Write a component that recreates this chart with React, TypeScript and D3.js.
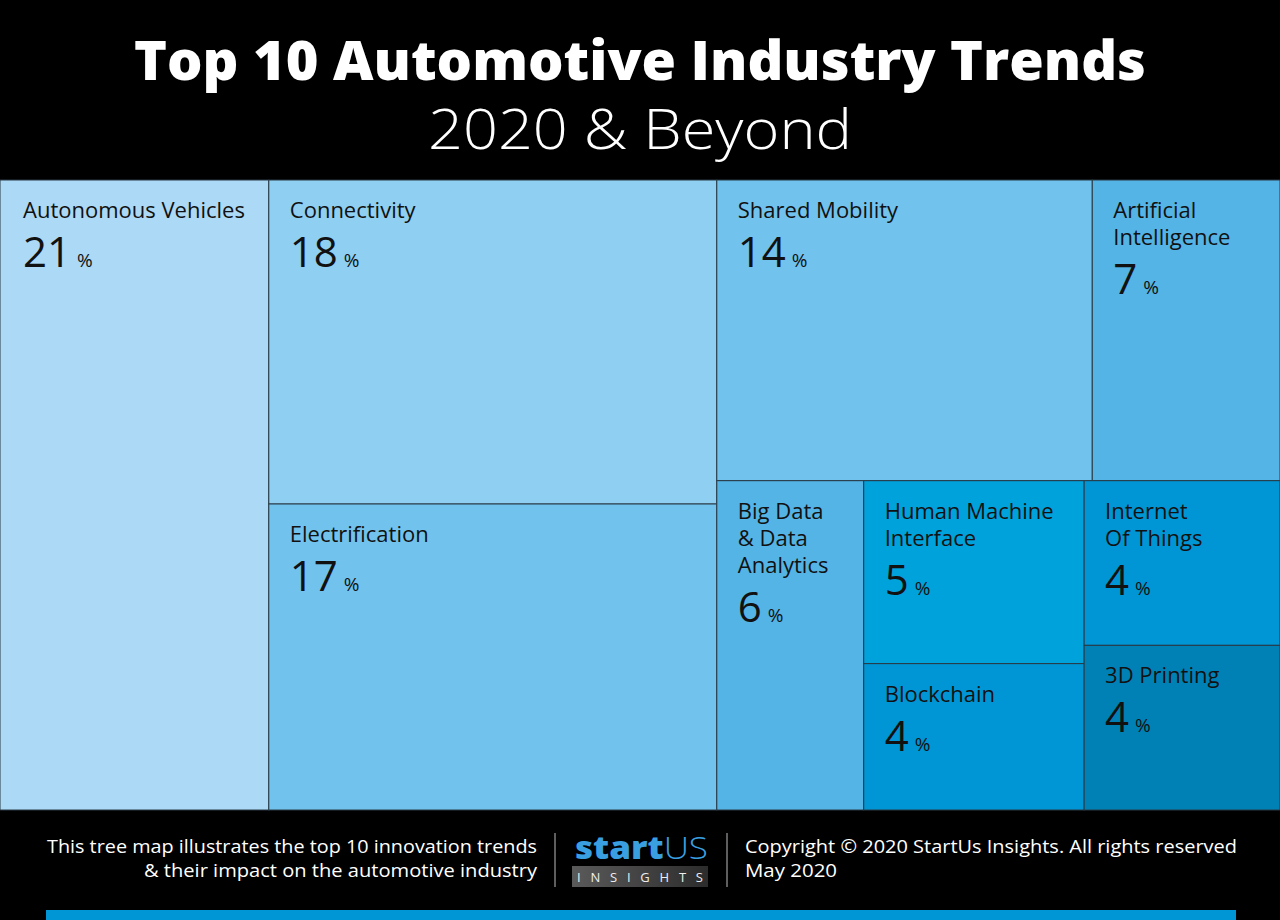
import { useMemo } from 'react'
import * as d3 from 'd3'

// trend names, shares (%) and fills
const trendNames = [
  'Autonomous Vehicles',
  'Connectivity',
  'Electrification',
  'Shared Mobility',
  'Artificial Intelligence',
  'Big Data & Data Analytics',
  'Human Machine Interface',
  'Blockchain',
  'Internet Of Things',
  '3D Printing',
]
const trendShares = [21, 18, 17, 14, 7, 6, 5, 4, 4, 4]
const trendLines = [
  ['Autonomous Vehicles'],
  ['Connectivity'],
  ['Electrification'],
  ['Shared Mobility'],
  ['Artificial', 'Intelligence'],
  ['Big Data', '& Data', 'Analytics'],
  ['Human Machine', 'Interface'],
  ['Blockchain'],
  ['Internet', 'Of Things'],
  ['3D Printing'],
]
const trendColors = [
  '#acd9f6',
  '#8ecff2',
  '#71c3ee',
  '#71c3ee',
  '#54b4e6',
  '#54b4e6',
  '#00a2dc',
  '#0096d5',
  '#0096d5',
  '#0081b6',
]

const W = 1280
const H = 920
const top = 180
const bottom = 810

type Node = { name?: string; idx?: number; dir?: 'h' | 'v'; children?: Node[]; value?: number }

const leaf = (i: number): Node => ({ name: trendNames[i], idx: i, value: trendShares[i] })

// nesting that reproduces the slice-and-dice arrangement of the original
const tree: Node = {
  dir: 'h',
  children: [
    leaf(0),
    { dir: 'v', children: [leaf(1), leaf(2)] },
    {
      dir: 'v',
      children: [
        { dir: 'h', children: [leaf(3), leaf(4)] },
        {
          dir: 'h',
          children: [
            leaf(5),
            { dir: 'v', children: [leaf(6), leaf(7)] },
            { dir: 'v', children: [leaf(8), leaf(9)] },
          ],
        },
      ],
    },
  ],
}

const App = () => {
  const cells = useMemo(() => {
    const root = d3
      .hierarchy<Node>(tree)
      .sum((d) => (d.children ? 0 : d.value || 0))
    const layout = d3
      .treemap<Node>()
      .size([W, bottom - top])
      .tile((node, x0, y0, x1, y1) => {
        if (node.data.dir === 'v') d3.treemapSlice(node, x0, y0, x1, y1)
        else d3.treemapDice(node, x0, y0, x1, y1)
      })
    return layout(root).leaves()
  }, [])

  const font = "'Open Sans', sans-serif"

  return (
    <svg
      width={W}
      height={H}
      style={{ position: 'absolute', left: 0, top: 0, background: '#000' }}
    >
      <rect x={0} y={0} width={W} height={H} fill="#000" />

      {/* header */}
      <text
        x={W / 2}
        y={80}
        textAnchor="middle"
        fill="#fff"
        fontFamily={font}
        fontWeight={800}
        fontSize={54}
        textLength={1012}
        lengthAdjust="spacingAndGlyphs"
      >
        Top 10 Automotive Industry Trends
      </text>
      <text
        x={W / 2}
        y={149}
        textAnchor="middle"
        fill="#fff"
        fontFamily={font}
        fontWeight={300}
        fontSize={56}
        textLength={424}
        lengthAdjust="spacingAndGlyphs"
      >
        2020 &amp; Beyond
      </text>

      {/* treemap */}
      <g transform={`translate(0,${top})`}>
        {cells.map((c) => {
          const i = c.data.idx as number
          const lines = trendLines[i]
          const lx = c.x0 + 21 + (i === 0 ? 2 : 0)
          const numY = 38 + 27 * (lines.length - 1) + 49
          return (
            <g key={i} transform={`translate(0,${c.y0})`}>
              <rect
                x={c.x0}
                y={0}
                width={c.x1 - c.x0}
                height={c.y1 - c.y0}
                fill={trendColors[i]}
                stroke="#2a3a45"
                strokeWidth={1}
              />
              <text x={lx} y={38} fontFamily={font} fontSize={22} fill="#111">
                {lines.map((l, k) => (
                  <tspan key={k} x={lx} dy={k === 0 ? 0 : 27}>
                    {l}
                  </tspan>
                ))}
              </text>
              <text x={lx} y={numY} fontFamily={font} fill="#111">
                <tspan fontSize={42}>{trendShares[i]}</tspan>
                <tspan fontSize={19} dx={6}>
                  %
                </tspan>
              </text>
            </g>
          )
        })}
      </g>

      {/* footer */}
      <g fontFamily={font} fill="#fff" fontSize={19}>
        <text x={537} y={853} textAnchor="end" textLength={490} lengthAdjust="spacingAndGlyphs">
          This tree map illustrates the top 10 innovation trends
        </text>
        <text x={537} y={877} textAnchor="end" textLength={393} lengthAdjust="spacingAndGlyphs">
          &amp; their impact on the automotive industry
        </text>
        <text x={745} y={853} textLength={492} lengthAdjust="spacingAndGlyphs">
          Copyright © 2020 StartUs Insights. All rights reserved
        </text>
        <text x={745} y={877} textLength={92} lengthAdjust="spacingAndGlyphs">
          May 2020
        </text>
      </g>
      <line x1={555} x2={555} y1={833} y2={887} stroke="#bbb" strokeWidth={1} />
      <line x1={727} x2={727} y1={833} y2={887} stroke="#bbb" strokeWidth={1} />

      {/* logo */}
      <defs>
        <linearGradient id="insG" x1="0" x2="1" y1="0" y2="0">
          <stop offset="0" stopColor="#5a5a5a" />
          <stop offset="1" stopColor="#2c2c2c" />
        </linearGradient>
      </defs>
      <text
        x={575}
        y={859}
        fontFamily={font}
        fill="#3a9fe0"
        fontSize={31}
        textLength={133}
        lengthAdjust="spacingAndGlyphs"
      >
        <tspan fontWeight={800}>start</tspan>
        <tspan fontWeight={300}>US</tspan>
      </text>
      <rect x={572} y={866} width={136} height={21} fill="url(#insG)" />
      <text
        x={577}
        y={882}
        fontFamily={font}
        fill="#eee"
        fontSize={13}
        textLength={126}
        lengthAdjust="spacing"
      >
        INSIGHTS
      </text>

      <rect x={46} y={910} width={1190} height={10} fill="#0096d5" />
    </svg>
  )
}

export default App
